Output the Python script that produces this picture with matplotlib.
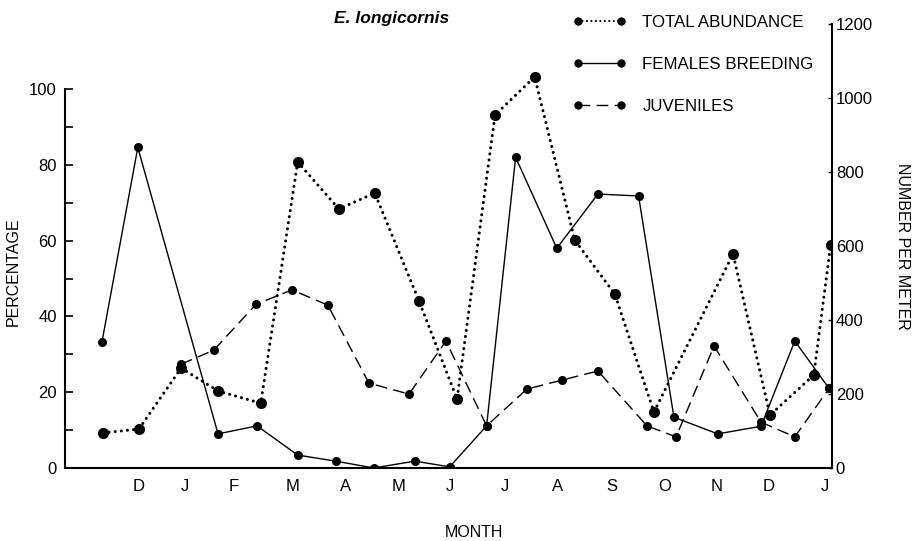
import matplotlib
matplotlib.use("Agg")
import matplotlib.pyplot as plt
from matplotlib.lines import Line2D

plt.rcParams['font.family'] = ['Liberation Sans', 'DejaVu Sans']

# month axis
month_labels = ['D', 'J', 'F', 'M', 'A', 'M', 'J', 'J', 'A', 'S', 'O', 'N', 'D', 'J']
month_pos = [1.00, 1.87, 2.80, 3.92, 4.92, 5.93, 6.89, 7.93, 8.94, 9.96, 10.97, 11.95, 12.94, 14.00]

# total abundance (number per meter, right axis)
total_x = [0.32, 1.00, 1.80, 2.50, 3.31, 4.01, 4.79, 5.47, 6.31, 7.03,
           7.75, 8.50, 9.26, 10.02, 10.76, 12.26, 12.96, 13.79, 14.11]
total_y = [95, 105, 270, 208, 175, 827, 700, 743, 451, 186,
           954, 1057, 616, 470, 151, 578, 143, 251, 603]

# females breeding (percentage, left axis)
fem_x = [0.30, 0.98, 2.50, 3.24, 4.01, 4.73, 5.45, 6.23, 6.89, 7.59,
         8.14, 8.92, 9.70, 10.47, 11.14, 11.97, 12.79, 13.43, 14.08]
fem_y = [33.2, 84.6, 9.0, 11.1, 3.4, 1.8, 0.0, 1.8, 0.3, 11.1,
         82.0, 58.0, 72.3, 71.8, 13.4, 9.0, 11.0, 33.5, 21.0]

# juveniles (percentage, left axis)
juv_x = [1.80, 2.42, 3.22, 3.90, 4.58, 5.36, 6.12, 6.82, 7.59, 8.35,
         9.02, 9.70, 10.63, 11.18, 11.90, 12.79, 13.43, 14.08]
juv_y = [27.4, 31.1, 43.2, 47.0, 43.0, 22.4, 19.5, 33.5, 11.1, 20.8,
         23.2, 25.6, 11.1, 8.2, 32.2, 12.1, 8.2, 21.0]

fig = plt.figure(figsize=(9.18, 5.41), dpi=100)
ax = fig.add_axes([0.0708, 0.135, 0.8352, 0.8207])
ax2 = ax.twinx()

ax.plot(fem_x, fem_y, color='black', lw=1.0, marker='o', ms=5.5)
ax.plot(juv_x, juv_y, color='black', lw=1.0, ls=(0, (8.5, 4.5)), marker='o', ms=5.5)
ax2.plot(total_x, total_y, color='black', lw=2.2, ls=(0, (0.01, 2.0)),
         dash_capstyle='round', marker='o', ms=7)

ax.set_xlim(-0.40, 14.13)
ax.set_ylim(0, 117.2)
ax2.set_ylim(0, 1200)

ax.set_xticks(month_pos)
ax.set_xticklabels(month_labels)
ax.tick_params(axis='x', length=0, pad=8, labelsize=12)
ax.set_yticks([0, 20, 40, 60, 80, 100])
ax.set_yticks([10, 30, 50, 70, 90], minor=True)
ax.tick_params(axis='y', which='both', direction='in', length=6, width=1.2, pad=6, labelsize=12)
ax2.set_yticks([0, 200, 400, 600, 800, 1000, 1200])
ax2.tick_params(axis='y', direction='in', length=3, width=1.0, pad=3, labelsize=12)

ax.spines['top'].set_visible(False)
ax.spines['right'].set_visible(False)
ax.spines['left'].set_bounds(0, 100)
ax.spines['left'].set_linewidth(1.5)
ax.spines['bottom'].set_linewidth(1.5)
for s in ['top', 'left', 'bottom']:
    ax2.spines[s].set_visible(False)
ax2.spines['right'].set_linewidth(1.5)

fig.text(0.014, 0.497, 'PERCENTAGE', rotation=90, ha='center', va='center', fontsize=11.5)
fig.text(0.983, 0.545, 'NUMBER PER METER', rotation=-90, ha='center', va='center', fontsize=11.5)
fig.text(0.516, 0.015, 'MONTH', ha='center', va='center', fontsize=11.5)
fig.text(0.427, 0.966, 'E. longicornis', ha='center', va='center', fontsize=12.5,
         fontweight='bold', fontstyle='italic')

# legend keys (smaller than the plotted lines, as in the original)
leg_total = Line2D([], [], color='black', lw=1.6, ls=(0, (0.01, 2.0)),
                   dash_capstyle='round', marker='o', ms=5)
leg_fem = Line2D([], [], color='black', lw=1.0, marker='o', ms=5)
leg_juv = Line2D([], [], color='black', lw=1.0, ls=(0, (8.5, 4.5)), marker='o', ms=5)
fig.legend(handles=[leg_total, leg_fem, leg_juv],
           labels=['TOTAL ABUNDANCE', 'FEMALES BREEDING', 'JUVENILES'],
           loc='upper left', bbox_to_anchor=(573 / 918, 1 - 15 / 541),
           frameon=False, numpoints=2, handlelength=3.15, handletextpad=0.95,
           labelspacing=1.6, borderpad=0, borderaxespad=0, fontsize=12.2)

plt.savefig('out.png', dpi=100)
